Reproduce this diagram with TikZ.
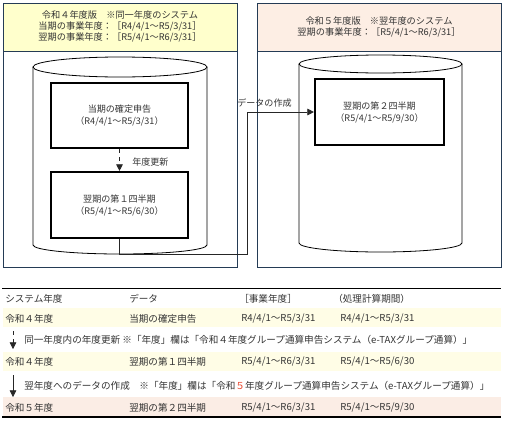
\documentclass[tikz,border=0pt]{standalone}
\usepackage{fontspec}
\setmainfont{Noto Sans CJK JP}
\usetikzlibrary{arrows.meta}
\definecolor{navy}{HTML}{243B55}
\definecolor{hdryel}{HTML}{FFFFCC}
\definecolor{hdrpink}{HTML}{FDEEE4}
\definecolor{rowyel}{HTML}{FFFDE6}
\definecolor{rowpink}{HTML}{FBEDE5}
\definecolor{txt}{HTML}{333333}
\definecolor{redfive}{HTML}{E8452C}
\tikzset{
  panel/.style={draw=navy, line width=0.75pt},
  cyl/.style={draw=black, line width=0.6pt, fill=white},
  databox/.style={draw=black, line width=1.6pt, fill=white, minimum width=102.75pt, align=center, inner sep=0pt, font=\fontsize{6.8}{9}\selectfont, text=txt},
  hdr/.style={align=center, font=\fontsize{6.9}{8.4}\selectfont, text=txt},
  cell/.style={anchor=west, inner sep=0pt, font=\fontsize{7.2}{8}\selectfont, text=txt},
  lbl/.style={anchor=west, inner sep=0pt, font=\fontsize{6.8}{8}\selectfont, text=txt},
  conn/.style={draw=black!85, line width=0.6pt},
  tip/.style={-{Triangle[length=5pt,width=5pt]}}
}
\begin{document}
\begin{tikzpicture}[x=0.75pt,y=-0.75pt]
\useasboundingbox (0,0) rectangle (505,421);
% panels
\fill[hdryel] (3,3) rectangle (237,51);
\fill[hdrpink] (257,3) rectangle (501,51);
\draw[panel] (3,3) rectangle (237,267);
\draw[panel] (3,51) -- (237,51);
\draw[panel] (257,3) rectangle (501,267);
\draw[panel] (257,51) -- (501,51);
\node[hdr] (h1) at (120,26.5) {令和４年度版　※同一年度のシステム\\当期の事業年度：［R4/4/1～R5/3/31］\\翌期の事業年度：［R5/4/1～R6/3/31］};
\node[hdr] (h2) at (379,27) {令和５年度版　※翌年度のシステム\\翌期の事業年度：［R5/4/1～R6/3/31］};
% cylinders
\draw[cyl] (33,67) -- (33,245) arc[start angle=180, end angle=360, x radius=65.25pt, y radius=6.75pt] -- (207,67);
\draw[cyl] (120,67) ellipse [x radius=65.25pt, y radius=7.5pt];
\draw[cyl] (299,64) -- (299,243) arc[start angle=180, end angle=360, x radius=61.1pt, y radius=6.75pt] -- (462,64);
\draw[cyl] (380.5,64) ellipse [x radius=61.1pt, y radius=6.75pt];
% data boxes
\node[databox, minimum height=48.75pt] (b1) at (119.5,115.5) {当期の確定申告\\（R4/4/1～R5/3/31）};
\node[databox, minimum height=49.5pt] (b2) at (119.5,205) {翌期の第１四半期\\（R5/4/1～R5/6/30）};
\node[databox, minimum width=96.75pt, minimum height=49.5pt] (b3) at (379.5,112) {翌期の第２四半期\\（R5/4/1～R5/9/30）};
% connectors
\draw[conn, dashed, tip] (b1.south) -- (b2.north);
\node[lbl] (upd) at (132,162) {年度更新};
\coordinate (c1) at (247,254);
\draw[conn, tip] (b2.south) |- (c1) |- (b3.west);
\node[lbl] (mk) at (237,103) {データの作成};
% table
\fill[rowyel] (3,308) rectangle (501,327);
\fill[rowyel] (3,352) rectangle (501,371);
\fill[rowpink] (3,397) rectangle (501,416);
\draw[line width=0.75pt] (2,288) -- (501,288);
\draw[line width=1.1pt] (2,417) -- (501,417);
\node[cell] (t00) at (5,298.5) {システム年度};
\node[cell] (t01) at (129,298.5) {データ};
\node[cell] (t02) at (239,298.5) {［事業年度］};
\node[cell] (t03) at (333,298.5) {（処理計算期間）};
\node[cell] (t10) at (5,318.5) {令和４年度};
\node[cell] (t11) at (129,318.5) {当期の確定申告};
\node[cell] (t12) at (241,318.5) {R4/4/1～R5/3/31};
\node[cell] (t13) at (340,318.5) {R4/4/1～R5/3/31};
\node[cell] (n1) at (24,340) {同一年度内の年度更新 ※「年度」欄は「令和４年度グループ通算申告システム（e-TAXグループ通算）」};
\node[cell] (t20) at (5,362) {令和４年度};
\node[cell] (t21) at (129,362) {翌期の第１四半期};
\node[cell] (t22) at (241,362) {R5/4/1～R6/3/31};
\node[cell] (t23) at (340,362) {R5/4/1～R5/6/30};
\node[cell] (n2) at (24,386) {翌年度へのデータの作成　※「年度」欄は「令和{\color{redfive}５}年度グループ通算申告システム（e-TAXグループ通算）」};
\node[cell] (t30) at (5,408) {令和５年度};
\node[cell] (t31) at (129,408) {翌期の第２四半期};
\node[cell] (t32) at (241,408) {R5/4/1～R6/3/31};
\node[cell] (t33) at (340,408) {R5/4/1～R5/9/30};
\coordinate (a1s) at (13,331);
\coordinate (a1e) at (13,349);
\draw[conn, dashed, tip] (a1s) -- (a1e);
\coordinate (a2s) at (13,375);
\coordinate (a2e) at (13,397);
\draw[conn, tip] (a2s) -- (a2e);
\end{tikzpicture}
\end{document}
